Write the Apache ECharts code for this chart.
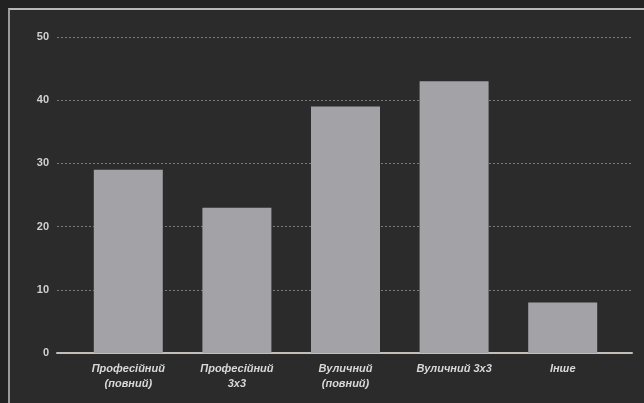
<!DOCTYPE html>
<html>
<head>
<meta charset="utf-8">
<script src="https://cdn.jsdelivr.net/npm/echarts@6/dist/echarts.min.js"></script>
<style>
html,body{margin:0;padding:0;background:#222222;width:644px;height:403px;overflow:hidden;}
#frame{position:absolute;left:8px;top:8px;width:636px;height:395px;border-top:2px solid #b8b8b8;border-left:2px solid #9a9a9a;background:#2b2b2b;box-sizing:border-box;}
#chart{position:absolute;left:0;top:0;width:644px;height:403px;}
</style>
</head>
<body>
<div id="frame"></div>
<div id="chart"></div>
<script>
const categories = ['Професійний\n(повний)', 'Професійний\n3x3', 'Вуличний\n(повний)', 'Вуличний 3x3', 'Інше'];
const values = [29, 23, 39, 43, 8];
const yTicks = [0, 10, 20, 30, 40, 50];

const chart = echarts.init(document.getElementById('chart'), null, {renderer: 'canvas'});
const font = 'Liberation Sans, Arial, sans-serif';
chart.setOption({
  backgroundColor: 'transparent',
  animation: false,
  grid: [
    {left: 57, right: 12, top: 37, bottom: 50},
    {left: 74, right: 27, top: 37, bottom: 50}
  ],
  xAxis: [
    {gridIndex: 0, type: 'value', min: 0, max: 1, show: true,
     axisLine: {show: true, lineStyle: {color: '#c4beb8', width: 2}},
     axisTick: {show: false}, axisLabel: {show: false}, splitLine: {show: false}},
    {gridIndex: 1, type: 'category', data: categories,
     axisLine: {show: false}, axisTick: {show: false},
     axisLabel: {color: '#d8d8d8', fontStyle: 'italic', fontWeight: 'bold', fontSize: 11, fontFamily: font, lineHeight: 15, margin: 8, interval: 0}}
  ],
  yAxis: [
    {gridIndex: 0, type: 'value', min: yTicks[0], max: yTicks[yTicks.length - 1], interval: 10,
     axisLine: {show: false}, axisTick: {show: false},
     axisLabel: {color: '#d0d0d0', fontWeight: 'bold', fontSize: 11, fontFamily: font, margin: 8},
     splitLine: {show: true, lineStyle: {color: '#7a7a7a', type: [2, 2], width: 1}}},
    {gridIndex: 1, type: 'value', min: yTicks[0], max: yTicks[yTicks.length - 1], interval: 10, show: false,
     splitLine: {show: false}}
  ],
  series: [{
    type: 'bar', xAxisIndex: 1, yAxisIndex: 1, data: values,
    barWidth: 69, itemStyle: {color: '#a3a3a7'}, z: 3
  }]
});
</script>
</body>
</html>
